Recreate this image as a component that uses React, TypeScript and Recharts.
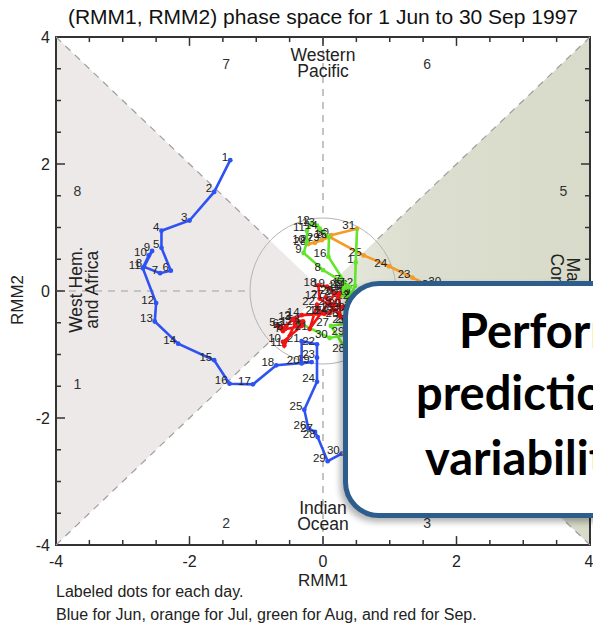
import React from 'react';
import { ScatterChart, Scatter, XAxis, YAxis, ReferenceLine, ReferenceArea, ReferenceDot } from 'recharts';

// daily (RMM1, RMM2) values, one entry per day of the month
const junRmm1 = [-1.39, -1.63, -2.0, -2.42, -2.42, -2.28, -2.44, -2.68, -2.56, -2.61, -2.7, -2.5, -2.52, -2.17, -1.63, -1.4, -1.05, -0.7, -0.17, -0.32, -0.32, -0.09, -0.09, -0.09, -0.28, -0.22, -0.12, -0.08, 0.07, 0.28];
const junRmm2 = [2.06, 1.56, 1.11, 0.95, 0.68, 0.32, 0.28, 0.38, 0.63, 0.56, 0.36, -0.19, -0.48, -0.83, -1.09, -1.46, -1.47, -1.17, -1.12, -1.14, -0.79, -0.84, -1.05, -1.43, -1.87, -2.16, -2.22, -2.3, -2.68, -2.56];
const julRmm1 = [0.75, 1.15, 1.5, 1.8, 2.05, 2.2, 2.35, 2.45, 2.4, 2.3, 2.35, 2.2, 2.05, 1.95, 1.8, 1.7, 1.75, 1.85, 1.9, 1.8, 1.7, 1.75, 1.34, 0.99, 0.61, 0.1, -0.12, -0.22, -0.02, 0.12, 0.51];
const julRmm2 = [-2.45, -2.3, -2.05, -1.75, -1.5, -1.2, -0.95, -0.7, -0.45, -0.3, -0.1, -0.2, -0.35, -0.55, -0.6, -0.45, -0.25, -0.1, 0.0, 0.1, 0.05, 0.0, 0.21, 0.39, 0.56, 0.85, 0.76, 0.74, 0.8, 0.88, 0.98];
const augRmm1 = [0.49, 0.48, 0.42, 0.45, 0.32, 0.4, 0.3, 0.0, -0.29, -0.24, -0.24, -0.17, -0.09, -0.05, 0.09, 0.08, 0.36, 0.3, 0.44, 0.26, 0.38, 0.42, 0.32, 0.4, 0.36, 0.4, 0.12, 0.36, 0.35, 0.1, -0.34];
const augRmm2 = [0.45, 0.08, -0.05, -0.22, -0.02, 0.06, 0.14, 0.33, 0.6, 0.77, 0.95, 1.07, 1.03, 0.98, 0.85, 0.54, 0.08, 0.02, -0.06, -0.08, 0.06, -0.12, 0.05, -0.32, -0.5, -0.5, -0.55, -0.95, -0.69, -0.74, -0.51];
const sepRmm1 = [-0.3, -0.45, -0.55, -0.62, -0.68, -0.63, -0.6, -0.57, -0.32, -0.6, -0.58, -0.42, -0.45, -0.32, 0.02, 0.18, -0.05, -0.07, 0.06, 0.18, -0.2, -0.09, -0.04, 0.1, 0.24, 0.26, 0.04, 0.15, 0.3, 0.36];
const sepRmm2 = [-0.48, -0.44, -0.55, -0.6, -0.55, -0.56, -0.63, -0.6, -0.55, -0.8, -0.86, -0.52, -0.45, -0.38, -0.36, -0.3, -0.12, 0.09, 0.07, -0.04, -0.6, -0.22, -0.35, -0.35, -0.05, -0.4, -0.1, -0.22, -0.25, -0.3];

const AXIS_TICKS = [-4, -2, 0, 2, 4];
const MAJOR_TICKS = [-2, 0, 2];
const MINOR_TICKS = [-3.5, -3, -2.5, -1.5, -1, -0.5, 0.5, 1, 1.5, 2.5, 3, 3.5];

const PHASE_NAMES = ['1', '2', '3', '4', '5', '6', '7', '8'];
const PHASE_X = [-3.68, -1.45, 1.56, 3.6, 3.6, 1.56, -1.45, -3.68];
const PHASE_Y = [-1.46, -3.66, -3.66, -1.46, 1.58, 3.58, 3.58, 1.58];

const FONT = '"Liberation Sans", Arial, Helvetica, sans-serif';

const toPoints = (xs: number[], ys: number[], prev?: { x: number; y: number }) => {
  const pts: any[] = xs.map((x, i) => ({ x, y: ys[i], day: i + 1 }));
  if (prev) pts.unshift({ x: prev.x, y: prev.y, link: true });
  return pts;
};

const junData = toPoints(junRmm1, junRmm2);
const julData = toPoints(julRmm1, julRmm2, { x: junRmm1[junRmm1.length - 1], y: junRmm2[junRmm2.length - 1] });
const augData = toPoints(augRmm1, augRmm2, { x: julRmm1[julRmm1.length - 1], y: julRmm2[julRmm2.length - 1] });
const sepData = toPoints(sepRmm1, sepRmm2, { x: augRmm1[augRmm1.length - 1], y: augRmm2[augRmm2.length - 1] });

const MONTHS = [
  { key: 'jun', data: junData, color: '#2f52f2' },
  { key: 'jul', data: julData, color: '#f49b28' },
  { key: 'aug', data: augData, color: '#63e52a' },
  { key: 'sep', data: sepData, color: '#f01414' },
];

const phaseData = PHASE_NAMES.map((name, i) => ({ x: PHASE_X[i], y: PHASE_Y[i], name }));

const dayShape = (color: string) => (props: any) => {
  const { cx, cy, payload } = props;
  if (payload.link) return <g />;
  return (
    <g>
      <circle cx={cx} cy={cy} r={2.4} fill={color} />
      <text x={cx - 2} y={cy + 0.5} textAnchor="end" fontSize={11.5} fontFamily={FONT} fill="#222">
        {payload.day}
      </text>
    </g>
  );
};

const phaseShape = (props: any) => (
  <text x={props.cx} y={props.cy} textAnchor="middle" dominantBaseline="central" fontSize={14} fontFamily={FONT} fill="#333">
    {props.payload.name}
  </text>
);

const regionText = (lines: string[], angle: number) => (props: any) => {
  const { cx, cy } = props;
  return (
    <text
      transform={`translate(${cx},${cy}) rotate(${angle})`}
      textAnchor="middle"
      fontSize={17.5}
      fontFamily={FONT}
      fill="#222"
    >
      {lines.map((l, i) => (
        <tspan key={i} x={0} y={(i - (lines.length - 1) / 2) * 16 + 6}>{l}</tspan>
      ))}
    </text>
  );
};

const leftTriangle = (p: any) => (
  <polygon points={`${p.x},${p.y} ${p.x + p.width},${p.y + p.height / 2} ${p.x},${p.y + p.height}`} fill="#ede9e9" />
);
const rightTriangle = (p: any) => (
  <g>
    <defs>
      <linearGradient id="mcGrad" x1="0" y1="0" x2="1" y2="0">
        <stop offset="0%" stopColor="#e6e8dd" />
        <stop offset="35%" stopColor="#dcdfcf" />
        <stop offset="100%" stopColor="#d8dbc9" />
      </linearGradient>
    </defs>
    <polygon points={`${p.x + p.width},${p.y} ${p.x},${p.y + p.height / 2} ${p.x + p.width},${p.y + p.height}`} fill="url(#mcGrad)" />
  </g>
);

const dash = { stroke: '#9d9d9d', strokeDasharray: '7 6', strokeWidth: 1.2 };

export default function App() {
  return (
    <div style={{ position: 'fixed', left: 0, top: 0, width: 593, height: 624, overflow: 'hidden', background: '#fff' }}>
      <ScatterChart width={593} height={624} margin={{ top: 37, right: 3, bottom: 0, left: 0 }}>
        <XAxis
          dataKey="x"
          type="number"
          domain={[-4, 4]}
          allowDataOverflow
          ticks={AXIS_TICKS}
          tickLine={false}
          axisLine={false}
          tickMargin={5}
          height={79}
          tick={{ fontSize: 16, fill: '#222', fontFamily: FONT }}
        />
        <YAxis
          dataKey="y"
          type="number"
          domain={[-4, 4]}
          allowDataOverflow
          ticks={AXIS_TICKS}
          tickLine={false}
          axisLine={false}
          tickMargin={0}
          width={56}
          tick={{ fontSize: 16, fill: '#222', fontFamily: FONT }}
        />
        <ReferenceArea x1={-4} x2={0} y1={-4} y2={4} shape={leftTriangle} />
        <ReferenceArea x1={0} x2={4} y1={-4} y2={4} shape={rightTriangle} />
        <ReferenceDot x={0} y={0} r={73} fill="none" stroke="#b4b4b4" strokeWidth={1} />

        <ReferenceLine segment={[{ x: -4, y: 4 }, { x: -0.79, y: 0.79 }]} {...dash} />
        <ReferenceLine segment={[{ x: 4, y: 4 }, { x: 0.79, y: 0.79 }]} {...dash} />
        <ReferenceLine segment={[{ x: -4, y: -4 }, { x: -0.79, y: -0.79 }]} {...dash} />
        <ReferenceLine segment={[{ x: 4, y: -4 }, { x: 0.79, y: -0.79 }]} {...dash} />
        <ReferenceLine segment={[{ x: -4, y: 0 }, { x: -1.09, y: 0 }]} {...dash} />
        <ReferenceLine segment={[{ x: 4, y: 0 }, { x: 1.09, y: 0 }]} {...dash} />
        <ReferenceLine segment={[{ x: 0, y: 4 }, { x: 0, y: 1.14 }]} {...dash} />
        <ReferenceLine segment={[{ x: 0, y: -4 }, { x: 0, y: -1.14 }]} {...dash} />

        {MAJOR_TICKS.map((t) => (
          <React.Fragment key={`M${t}`}>
            <ReferenceLine segment={[{ x: t, y: -4 }, { x: t, y: -3.86 }]} stroke="#333" strokeWidth={1.5} />
            <ReferenceLine segment={[{ x: t, y: 4 }, { x: t, y: 3.86 }]} stroke="#333" strokeWidth={1.5} />
            <ReferenceLine segment={[{ x: -4, y: t }, { x: -3.865, y: t }]} stroke="#333" strokeWidth={1.5} />
            <ReferenceLine segment={[{ x: 4, y: t }, { x: 3.865, y: t }]} stroke="#333" strokeWidth={1.5} />
          </React.Fragment>
        ))}
        {MINOR_TICKS.map((t) => (
          <React.Fragment key={`m${t}`}>
            <ReferenceLine segment={[{ x: t, y: -4 }, { x: t, y: -3.92 }]} stroke="#333" strokeWidth={1.5} />
            <ReferenceLine segment={[{ x: t, y: 4 }, { x: t, y: 3.92 }]} stroke="#333" strokeWidth={1.5} />
            <ReferenceLine segment={[{ x: -4, y: t }, { x: -3.925, y: t }]} stroke="#333" strokeWidth={1.5} />
            <ReferenceLine segment={[{ x: 4, y: t }, { x: 3.925, y: t }]} stroke="#333" strokeWidth={1.5} />
          </React.Fragment>
        ))}

        <Scatter data={phaseData} shape={phaseShape} isAnimationActive={false} />
        <Scatter data={[{ x: 0, y: 3.59 }]} shape={regionText(['Western', 'Pacific'], 0)} isAnimationActive={false} />
        <Scatter data={[{ x: 0, y: -3.54 }]} shape={regionText(['Indian', 'Ocean'], 0)} isAnimationActive={false} />
        <Scatter data={[{ x: -3.58, y: 0.02 }]} shape={regionText(['West Hem.', 'and Africa'], -90)} isAnimationActive={false} />
        <Scatter data={[{ x: 3.63, y: 0.0 }]} shape={regionText(['Maritime', 'Continent'], 90)} isAnimationActive={false} />

        {MONTHS.map((m) => (
          <Scatter
            key={m.key}
            data={m.data}
            line={{ stroke: m.color, strokeWidth: 2.6 }}
            lineType="joint"
            shape={dayShape(m.color)}
            isAnimationActive={false}
          />
        ))}

        <ReferenceArea x1={-4} x2={4} y1={-4} y2={4} fill="none" stroke="#333" strokeWidth={2} fillOpacity={0} />
      </ScatterChart>

      <svg width={593} height={624} style={{ position: 'absolute', left: 0, top: 0, pointerEvents: 'none' }}>
        <text x={323} y={24} textAnchor="middle" fontSize={21} fontFamily={FONT} fill="#111">
          (RMM1, RMM2) phase space for 1 Jun to 30 Sep 1997
        </text>
        <text x={323} y={586} textAnchor="middle" fontSize={17} fontFamily={FONT} fill="#222">RMM1</text>
        <text transform="translate(23,300) rotate(-90)" textAnchor="middle" fontSize={17} fontFamily={FONT} fill="#222">RMM2</text>
        <text x={56} y={597} fontSize={16} fontFamily={FONT} fill="#222">Labeled dots for each day.</text>
        <text x={56} y={620} fontSize={16} fontFamily={FONT} fill="#222">Blue for Jun, orange for Jul, green for Aug, and red for Sep.</text>
      </svg>

      <div
        style={{
          position: 'absolute',
          left: 343,
          top: 281,
          width: 420,
          height: 227,
          border: '5px solid #2c5d8d',
          borderRadius: 36,
          background: '#fff',
          boxShadow: '-3px 4px 6px rgba(0,0,0,0.3)',
          fontFamily: 'Lato, "Open Sans", sans-serif',
          fontWeight: 700,
          fontSize: 47,
          lineHeight: 'normal',
          color: '#000',
        }}
      >
        <div style={{ position: 'absolute', left: 111, top: 16, whiteSpace: 'nowrap' }}>Performance of</div>
        <div style={{ position: 'absolute', left: 68, top: 78, whiteSpace: 'nowrap' }}>prediction of</div>
        <div style={{ position: 'absolute', left: 77, top: 143, whiteSpace: 'nowrap' }}>variability</div>
      </div>
    </div>
  );
}
